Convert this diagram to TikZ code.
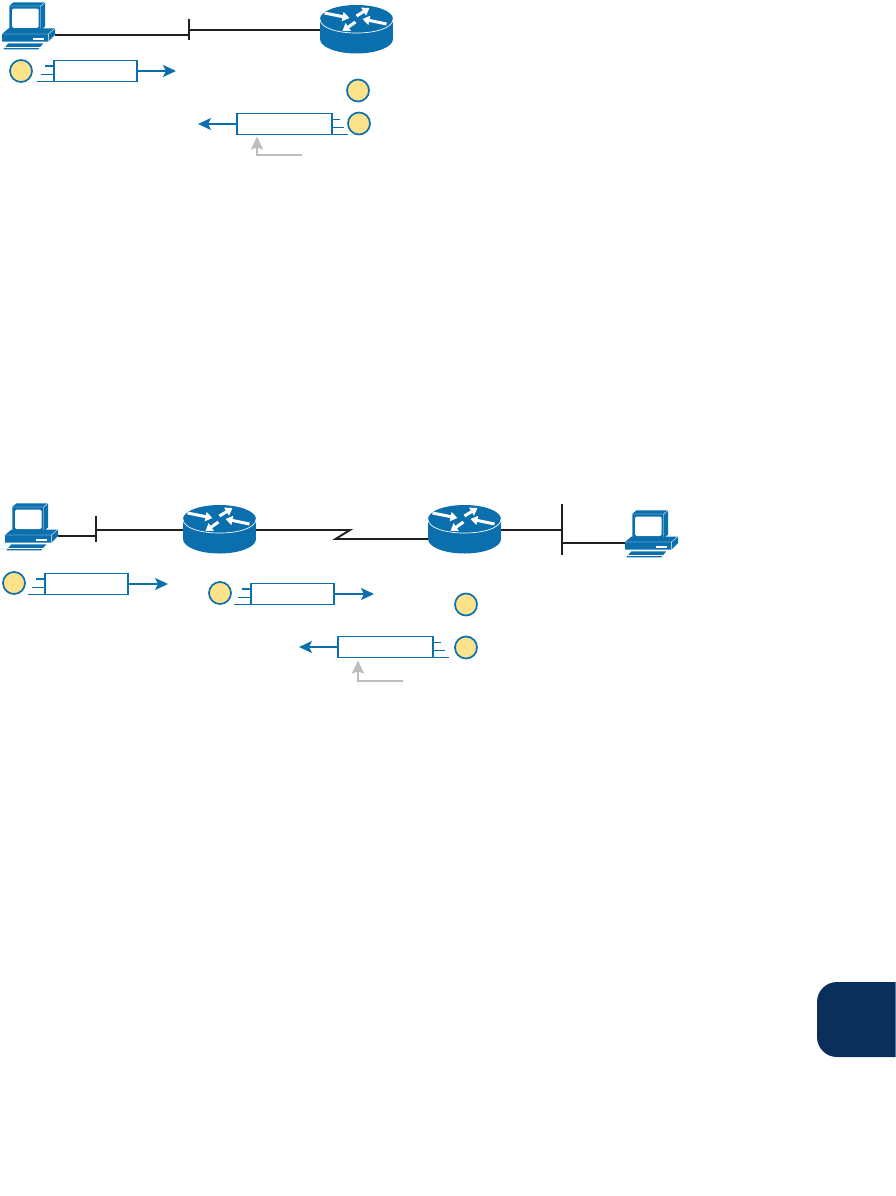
\documentclass[tikz,border=0pt]{standalone}
\usepackage{xcolor}
\usepackage{tikz}
\usetikzlibrary{arrows.meta, positioning}

\definecolor{ciscoblue}{HTML}{0B6FAE}
\definecolor{tagyellow}{HTML}{FDE28C}
\definecolor{wirebk}{HTML}{231F20}
\definecolor{notegray}{HTML}{BDBDBD}
\definecolor{tabnavy}{HTML}{0A2F5A}

% speed marks on the tail of a packet
\newcommand{\trailleft}[1]{
    \draw [pktline] (#1.north west) ++(0,5.7) -- ++(-9,0);
    \draw [pktline] (#1.north west) ++(0,14) -- ++(-13,0);
    \draw [pktline] (#1.south west) -- ++(-17,0);
}
\newcommand{\trailright}[1]{
    \draw [pktline] (#1.north east) ++(0,6) -- ++(8,0);
    \draw [pktline] (#1.north east) ++(0,14) -- ++(12,0);
    \draw [pktline] (#1.south east) -- ++(16,0);
}

\tikzset{
    pics/routericon/.style={code={
        \fill [ciscoblue] (-36.5,-11) rectangle (36.5,9);
        \fill [ciscoblue] (0,9) ellipse [x radius=36.5, y radius=14.5];
        \fill [ciscoblue] (0,-11) ellipse [x radius=36.5, y radius=14];
        \draw [white, line width=0.7pt] (-36.5,-11) .. controls (-36.5,7.7) and (36.5,7.7) .. (36.5,-11);
        \draw [rtrflow] (-32,-17) -- (-7,-12);
        \draw [rtrflow] (0,-14) -- (13,-22);
        \draw [rtrflow] (30,-6) -- (6,-11);
        \draw [rtrflow] (-1,-8) -- (-14,1);
    }},
    pics/pcicon/.style={code={
        \begin{scope}[shift={(-28.5,-35)}]
        \fill [ciscoblue] (9.3,6) -- (13.3,2.3) -- (45,2.3) -- (45,26.5) -- (40.7,30.7) -- (9.3,30.7) -- cycle;
        \draw [white, line width=0.4pt] (9.3,6) -- (40.7,6) -- (45,2.3) (40.7,6) -- (40.7,30.7);
        \fill [white, rounded corners=1.5pt] (12,8.7) rectangle (38.7,28);
        \fill [ciscoblue] (2,34) -- (8.5,28.5) -- (55,28.5) -- (55,35) -- (48.3,41.7) -- (2,41.7) -- cycle;
        \draw [white, line width=0.4pt] (2,34) -- (48.3,34) -- (55,28.5) (48.3,34) -- (48.3,41.7);
        \fill [white] (32.7,37.7) rectangle (44,40);
        \fill [ciscoblue] (3.3,49.3) -- (8.3,43.3) -- (43.3,43.3) -- (38.3,49.3) -- cycle;
        \draw [white, line width=0.4pt] (4.6,47.5) -- (40,47.5);
        \end{scope}
    }}
}

\begin{document}
\begin{tikzpicture}[
        x=1pt, y=-1pt,
        rtrflow/.style={white, line width=3pt, -{Triangle[length=7pt,width=9pt]}},
        routerbox/.style={rectangle, inner sep=0pt, outer sep=0pt, minimum width=73pt, minimum height=48pt},
        pcbox/.style={rectangle, inner sep=0pt, outer sep=0pt, minimum width=53pt, minimum height=1pt},
        pkt/.style={rectangle, draw=ciscoblue, line width=1.8pt, fill=white, inner sep=0pt, outer sep=0pt, minimum width=83pt, minimum height=21pt},
        pktwide/.style={pkt, minimum width=95.5pt},
        pktline/.style={ciscoblue, line width=1.7pt},
        tag/.style={circle, draw=ciscoblue, line width=1.7pt, fill=tagyellow, inner sep=0pt, minimum size=22pt},
        wire/.style={wirebk, line width=1.9pt},
        barline/.style={fill=wirebk, inner sep=0pt, outer sep=0pt, minimum width=2pt},
        pktarrow/.style={ciscoblue, line width=1.9pt, -{Stealth[length=13pt,width=12pt,inset=3pt]}},
        note/.style={notegray, line width=1.9pt, -{Stealth[length=13pt,width=12pt,inset=2pt]}}
    ]
    \useasboundingbox (0,0) rectangle (896,1196);

    % Top network
    \node (pcA) [pcbox] at (28.5,35) {};
    \node (barA) [barline, minimum height=21pt] at (189,29.5) {};
    \node (rtrA) [routerbox] at (356.5,30) {};
    \pic at (pcA) {pcicon};
    \pic at (rtrA) {routericon};

    \node (pktA) [pkt] at (95.5,71) {};
    \node (tagA) [tag] at (21,71) {};
    \node (pktB) [pktwide] at (284.5,124) {};
    \node (tagB) [tag] at (358,90.5) {};
    \node (tagC) [tag] at (359,123.5) {};
    \coordinate (endA) at (176,71);
    \coordinate (endB) at (198,124);
    \coordinate (noteA) at (301.5,155);
    \coordinate (markA) at (257,136.5);

    % Top arrows
    \draw [wire] (pcA.east) -- (pcA.east -| barA);
    \draw [wire] (rtrA.west) -- (rtrA.west -| barA);
    \trailleft{pktA}
    \trailright{pktB}
    \draw [pktarrow] (pktA.east) -- (endA);
    \draw [pktarrow] (pktB.west) -- (endB);
    \draw [note] (noteA) -| (markA);

    % Bottom network
    \node (pcB) [pcbox] at (31.5,536) {};
    \node (barB) [barline, minimum height=26pt] at (96,529) {};
    \node (rtrB) [routerbox] at (219.5,530) {};
    \node (rtrC) [routerbox] at (464.5,530) {};
    \node (barC) [barline, minimum height=51pt] at (562,529.5) {};
    \node (pcC) [pcbox] at (651.5,543) {};
    \coordinate (kinkA) at (350,530);
    \coordinate (kinkB) at (335.5,539);
    \pic at (pcB) {pcicon};
    \pic at (rtrB) {routericon};
    \pic at (rtrC) {routericon};
    \pic at (pcC) {pcicon};

    \node (pktC) [pkt] at (86.5,584) {};
    \node (tagD) [tag] at (14,583) {};
    \node (pktD) [pkt] at (292.5,594) {};
    \node (tagE) [tag] at (220,593) {};
    \node (pktE) [pktwide] at (385.5,647) {};
    \node (tagF) [tag] at (466,604.5) {};
    \node (tagG) [tag] at (466,647.5) {};
    \coordinate (endC) at (168,584);
    \coordinate (endD) at (374,594);
    \coordinate (endE) at (299,647);
    \coordinate (noteB) at (403,681);
    \coordinate (markB) at (358,660.5);

    % Bottom arrows
    \draw [wire] (pcB.east) -- (pcB.east -| barB);
    \draw [wire] (rtrB.west) -- (rtrB.west -| barB);
    \draw [wire] (rtrB.east) -- (kinkA) -- (kinkB) -- (kinkB -| rtrC.west);
    \draw [wire] (rtrC.east) -- (rtrC.east -| barC);
    \draw [wire] (pcC.west) -- (pcC.west -| barC);
    \trailleft{pktC}
    \trailleft{pktD}
    \trailright{pktE}
    \draw [pktarrow] (pktC.east) -- (endC);
    \draw [pktarrow] (pktD.east) -- (endD);
    \draw [pktarrow] (pktE.west) -- (endE);
    \draw [note] (noteB) -| (markB);

    % Side tab
    \fill [tabnavy, rounded corners=20pt] (895.5,982) -- (817,982) -- (817,1057) -- (895.5,1057);

\end{tikzpicture}
\end{document}
